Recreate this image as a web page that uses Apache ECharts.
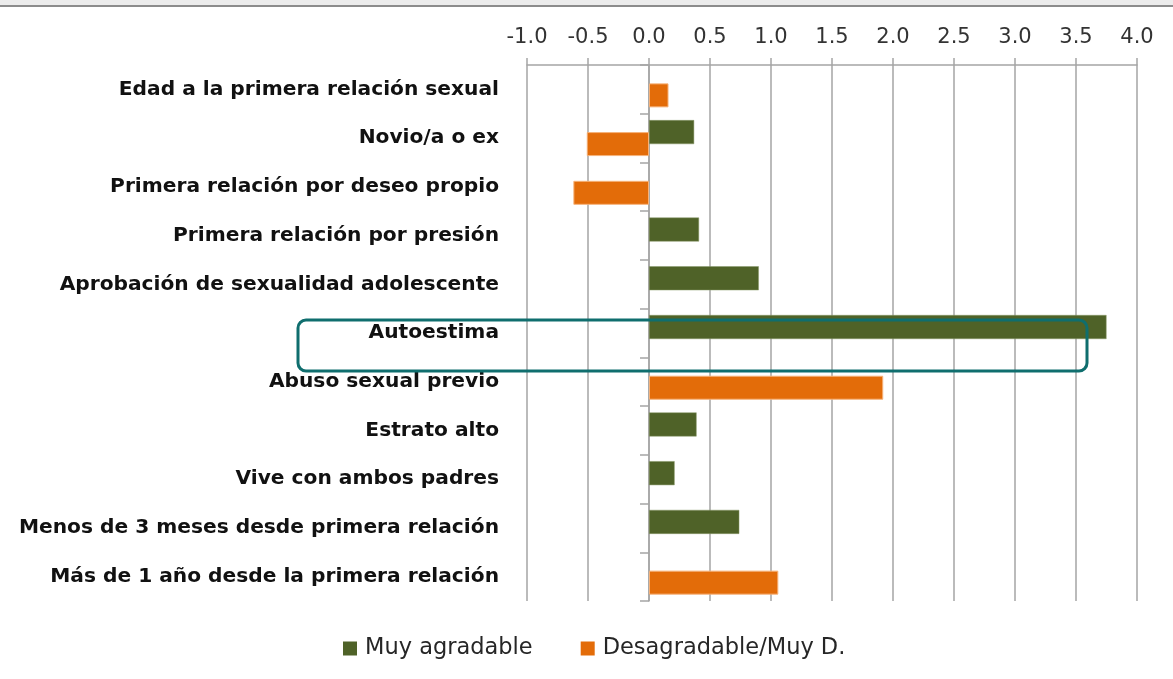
<!DOCTYPE html>
<html>
<head>
<meta charset="utf-8">
<script src="https://cdn.jsdelivr.net/npm/echarts@6/dist/echarts.min.js"></script>
<style>
  html, body { margin: 0; padding: 0; background: #fff; }
  #chart { width: 1173px; height: 679px; }
</style>
</head>
<body>
<div id="chart"></div>
<script>
// categorias, de arriba a abajo
const categories = [
  'Edad a la primera relación sexual',
  'Novio/a o ex',
  'Primera relación por deseo propio',
  'Primera relación por presión',
  'Aprobación de sexualidad adolescente',
  'Autoestima',
  'Abuso sexual previo',
  'Estrato alto',
  'Vive con ambos padres',
  'Menos de 3 meses desde primera relación',
  'Más de 1 año desde la primera relación'
];
const muyAgradable = ['-', 0.37, '-', 0.41, 0.90, 3.75, '-', 0.39, 0.21, 0.74, '-'];
const desagradable = [0.16, -0.51, -0.62, '-', '-', '-', 1.92, '-', '-', '-', 1.06];
const seriesNames = ['Muy agradable', 'Desagradable/Muy D.'];

const GREEN = '#4f6228';
const ORANGE = '#e36c09';
const GRID = '#a5a5a5';

let chart = echarts.init(document.getElementById('chart'));

let option = {
  animation: false,
  backgroundColor: '#fff',
  grid: {
    left: 527,
    right: 36,
    top: 65,
    bottom: 78
  },
  xAxis: {
    type: 'value',
    position: 'top',
    min: -1,
    max: 4,
    interval: 0.5,
    axisLine: { show: true, lineStyle: { color: GRID, width: 1.5 } },
    axisTick: { show: true, length: 7, lineStyle: { color: GRID, width: 1.5 } },
    splitLine: { show: true, lineStyle: { color: GRID, width: 1.5 } },
    axisLabel: {
      margin: 17,
      fontFamily: 'DejaVu Sans',
      fontSize: 21,
      color: '#333',
      formatter: v => v.toFixed(1)
    }
  },
  yAxis: [{
    // solo etiquetas
    type: 'category',
    data: categories,
    inverse: true,
    position: 'left',
    axisLine: { show: false, onZero: false },
    axisTick: { show: false },
    axisLabel: {
      margin: 28,
      fontFamily: 'DejaVu Sans',
      fontWeight: 'bold',
      fontSize: 20.2,
      color: '#111'
    }
  }, {
    // eje vertical en el cero (-1 -> 0 son 122 px)
    type: 'category',
    data: categories,
    inverse: true,
    position: 'left',
    offset: -122,
    axisLine: { show: true, onZero: false, lineStyle: { color: GRID, width: 1.5 } },
    axisTick: { show: true, length: 9, lineStyle: { color: GRID, width: 1.5 } },
    axisLabel: { show: false }
  }],
  legend: {
    bottom: 14,
    left: 338,
    icon: 'rect',
    itemWidth: 14,
    itemHeight: 14,
    itemGap: 48,
    itemStyle: { borderWidth: 0 },
    textStyle: { fontFamily: 'DejaVu Sans', fontSize: 22.5, color: '#262626', padding: [0, 0, 0, 3] },
    data: seriesNames
  },
  series: [{
    name: seriesNames[0],
    type: 'bar',
    barWidth: 24,
    barGap: '-50%',
    itemStyle: { color: GREEN, borderColor: '#8a9a6a', borderWidth: 0.5 },
    data: muyAgradable
  }, {
    name: seriesNames[1],
    type: 'bar',
    barWidth: 24,
    barGap: '-50%',
    itemStyle: { color: ORANGE, borderColor: '#f6b27a', borderWidth: 1 },
    data: desagradable
  }],
  graphic: [{
    type: 'rect',
    shape: { x: 0, y: 0, width: 1173, height: 5 },
    style: { fill: '#ececec' },
    silent: true
  }, {
    type: 'line',
    shape: { x1: 0, y1: 6, x2: 1173, y2: 6 },
    style: { stroke: '#8c8c8c', lineWidth: 2 },
    silent: true
  }, {
    // recuadro de Autoestima
    type: 'rect',
    shape: { x: 298, y: 320, width: 789, height: 51, r: 8 },
    style: { fill: 'none', stroke: '#0f6e6e', lineWidth: 3 },
    z: 100,
    silent: true
  }]
};

chart.setOption(option);
</script>
</body>
</html>
